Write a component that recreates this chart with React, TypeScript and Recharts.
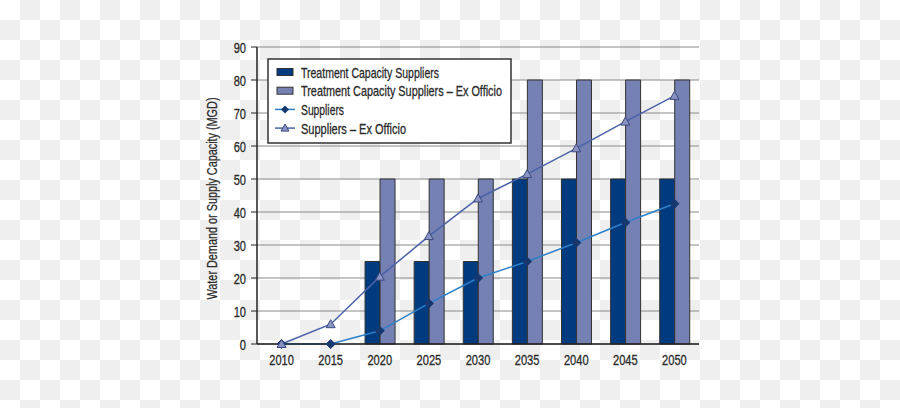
import React from "react";
import {
  Bar,
  CartesianGrid,
  ComposedChart,
  Line,
  XAxis,
  YAxis,
} from "recharts";

const years = ["2010", "2015", "2020", "2025", "2030", "2035", "2040", "2045", "2050"];
const capacitySuppliers = [0, 0, 25, 25, 25, 50, 50, 50, 50];
const capacityExOfficio = [0, 0, 50, 50, 50, 80, 80, 80, 80];
const demandSuppliers = [0, 0, 4, 12.3, 20, 25, 30.7, 36.8, 42.5];
const demandExOfficio = [0, 6, 20.4, 32.7, 44.1, 51.5, 59.3, 67.4, 75.2];
const yTicks = [0, 10, 20, 30, 40, 50, 60, 70, 80, 90];

const data = years.map((year, i) => ({
  year,
  cap: capacitySuppliers[i],
  capEx: capacityExOfficio[i],
  sup: demandSuppliers[i],
  supEx: demandExOfficio[i],
}));

const FONT = "'Liberation Sans', Arial, sans-serif";
const DARK = "#003b80";
const LIGHT = "#7580b3";
const LINE1 = "#2d80c8";
const LINE2 = "#4a62a8";
const TEXT = "#2a2a2a";
const SQUEEZE = 0.74;

const Diamond = (props: any) => {
  const { cx, cy, index } = props;
  if (cx == null || cy == null) return <g key={index} />;
  const r = 4.5;
  return (
    <path
      key={index}
      d={`M${cx},${cy - r}L${cx + r},${cy}L${cx},${cy + r}L${cx - r},${cy}Z`}
      fill="#17376f"
      stroke="#17376f"
    />
  );
};

const Triangle = (props: any) => {
  const { cx, cy, index } = props;
  if (cx == null || cy == null) return <g key={index} />;
  return (
    <path
      key={index}
      d={`M${cx},${cy - 4.5}L${cx + 4.5},${cy + 3.5}L${cx - 4.5},${cy + 3.5}Z`}
      fill="#8a93c2"
      stroke="#3b4a80"
      strokeWidth={1}
    />
  );
};

// condensed-looking tick text
const XTick = (props: any) => {
  const { x, y, payload } = props;
  return (
    <text
      transform={`translate(${x},${y}) scale(${SQUEEZE},1)`}
      textAnchor="middle"
      dy={11}
      fill={TEXT}
      stroke={TEXT}
      strokeWidth={0.3}
      fontSize={15}
      fontFamily={FONT}
    >
      {payload.value}
    </text>
  );
};

const YTick = (props: any) => {
  const { x, y, payload } = props;
  return (
    <text
      transform={`translate(${x},${y}) scale(${SQUEEZE},1)`}
      textAnchor="end"
      dy={5.5}
      fill={TEXT}
      stroke={TEXT}
      strokeWidth={0.3}
      fontSize={15}
      fontFamily={FONT}
    >
      {payload.value}
    </text>
  );
};

const YLabel = (props: any) => {
  const { viewBox } = props;
  const cx = viewBox.x + 15;
  const cy = viewBox.y + viewBox.height / 2 + 3;
  return (
    <text
      transform={`translate(${cx},${cy}) rotate(-90)`}
      textAnchor="middle"
      dy={5}
      fill={TEXT}
      stroke={TEXT}
      strokeWidth={0.25}
      fontSize={14}
      fontFamily={FONT}
      textLength={202}
      lengthAdjust="spacingAndGlyphs"
    >
      Water Demand or Supply Capacity (MGD)
    </text>
  );
};

const legendItems = [
  { label: "Treatment Capacity Suppliers", kind: "bar", color: DARK, len: 138 },
  { label: "Treatment Capacity Suppliers \u2013 Ex Officio", kind: "bar", color: LIGHT, len: 201 },
  { label: "Suppliers", kind: "diamond", color: LINE1, len: 43 },
  { label: "Suppliers \u2013 Ex Officio", kind: "triangle", color: LINE2, len: 105 },
];

function ChartLegend() {
  return (
    <svg
      width={320}
      height={86}
      style={{ position: "absolute", left: 267, top: 58, fontFamily: FONT, overflow: "visible" }}
    >
      <rect x={1} y={1} width={243} height={84} fill="#fff" stroke="#333" strokeWidth={1.5} />
      {legendItems.map((it, i) => {
        const cy = 14 + i * 18.7;
        return (
          <g key={it.label}>
            {it.kind === "bar" ? (
              <rect x={10} y={cy - 3.5} width={16} height={7} fill={it.color} stroke="#333" strokeWidth={1} />
            ) : (
              <>
                <line x1={8} y1={cy} x2={28} y2={cy} stroke={it.color} strokeWidth={1.5} />
                {it.kind === "diamond" ? (
                  <path d={`M18,${cy - 4}L22,${cy}L18,${cy + 4}L14,${cy}Z`} fill="#17376f" />
                ) : (
                  <path d={`M18,${cy - 4}L22,${cy + 3}L14,${cy + 3}Z`} fill="#8a93c2" stroke="#3b4a80" />
                )}
              </>
            )}
            <text
              x={34}
              y={cy}
              dy={5.5}
              fill={TEXT}
              stroke={TEXT}
              strokeWidth={0.3}
              fontSize={15}
              textLength={it.len}
              lengthAdjust="spacingAndGlyphs"
            >
              {it.label}
            </text>
          </g>
        );
      })}
    </svg>
  );
}

export default function App() {
  return (
    <div
      style={{
        position: "absolute",
        left: 0,
        top: 0,
        width: 900,
        height: 408,
        background: "repeating-conic-gradient(#efefef 0 25%, #ffffff 0 50%) 0 0 / 40px 40px",
      }}
    >
      <ComposedChart
        width={900}
        height={408}
        data={data}
        margin={{ top: 47, right: 201, bottom: 34, left: 197 }}
        barCategoryGap="20%"
        barGap={0}
        style={{ fontFamily: FONT }}
      >
        <CartesianGrid vertical={false} stroke="#8a8a8a" strokeWidth={1} />
        <XAxis
          dataKey="year"
          axisLine={{ stroke: "#222", strokeWidth: 1.5 }}
          tickLine={false}
          tick={<XTick />}
          tickMargin={4}
          height={30}
        />
        <XAxis
          xAxisId="top"
          orientation="top"
          dataKey="year"
          axisLine={{ stroke: "#222", strokeWidth: 1.5 }}
          tick={false}
          tickLine={false}
          height={0}
        />
        <YAxis
          domain={[0, 90]}
          ticks={yTicks}
          interval={0}
          width={60}
          axisLine={{ stroke: "#222", strokeWidth: 1.5 }}
          tickLine={{ stroke: "#222" }}
          tickSize={6}
          tickMargin={5}
          tick={<YTick />}
          label={<YLabel />}
        />
        <YAxis
          yAxisId="right"
          orientation="right"
          domain={[0, 90]}
          axisLine={{ stroke: "#222", strokeWidth: 1.5 }}
          tick={false}
          tickLine={false}
          width={0}
        />
        <Bar dataKey="cap" fill={DARK} stroke="#333" strokeWidth={1} isAnimationActive={false} />
        <Bar dataKey="capEx" fill={LIGHT} stroke="#333" strokeWidth={1} isAnimationActive={false} />
        <Line
          dataKey="sup"
          stroke={LINE1}
          strokeWidth={1.5}
          dot={Diamond}
          activeDot={false}
          isAnimationActive={false}
        />
        <Line
          dataKey="supEx"
          stroke={LINE2}
          strokeWidth={1.5}
          dot={Triangle}
          activeDot={false}
          isAnimationActive={false}
        />
      </ComposedChart>
      <ChartLegend />
    </div>
  );
}
